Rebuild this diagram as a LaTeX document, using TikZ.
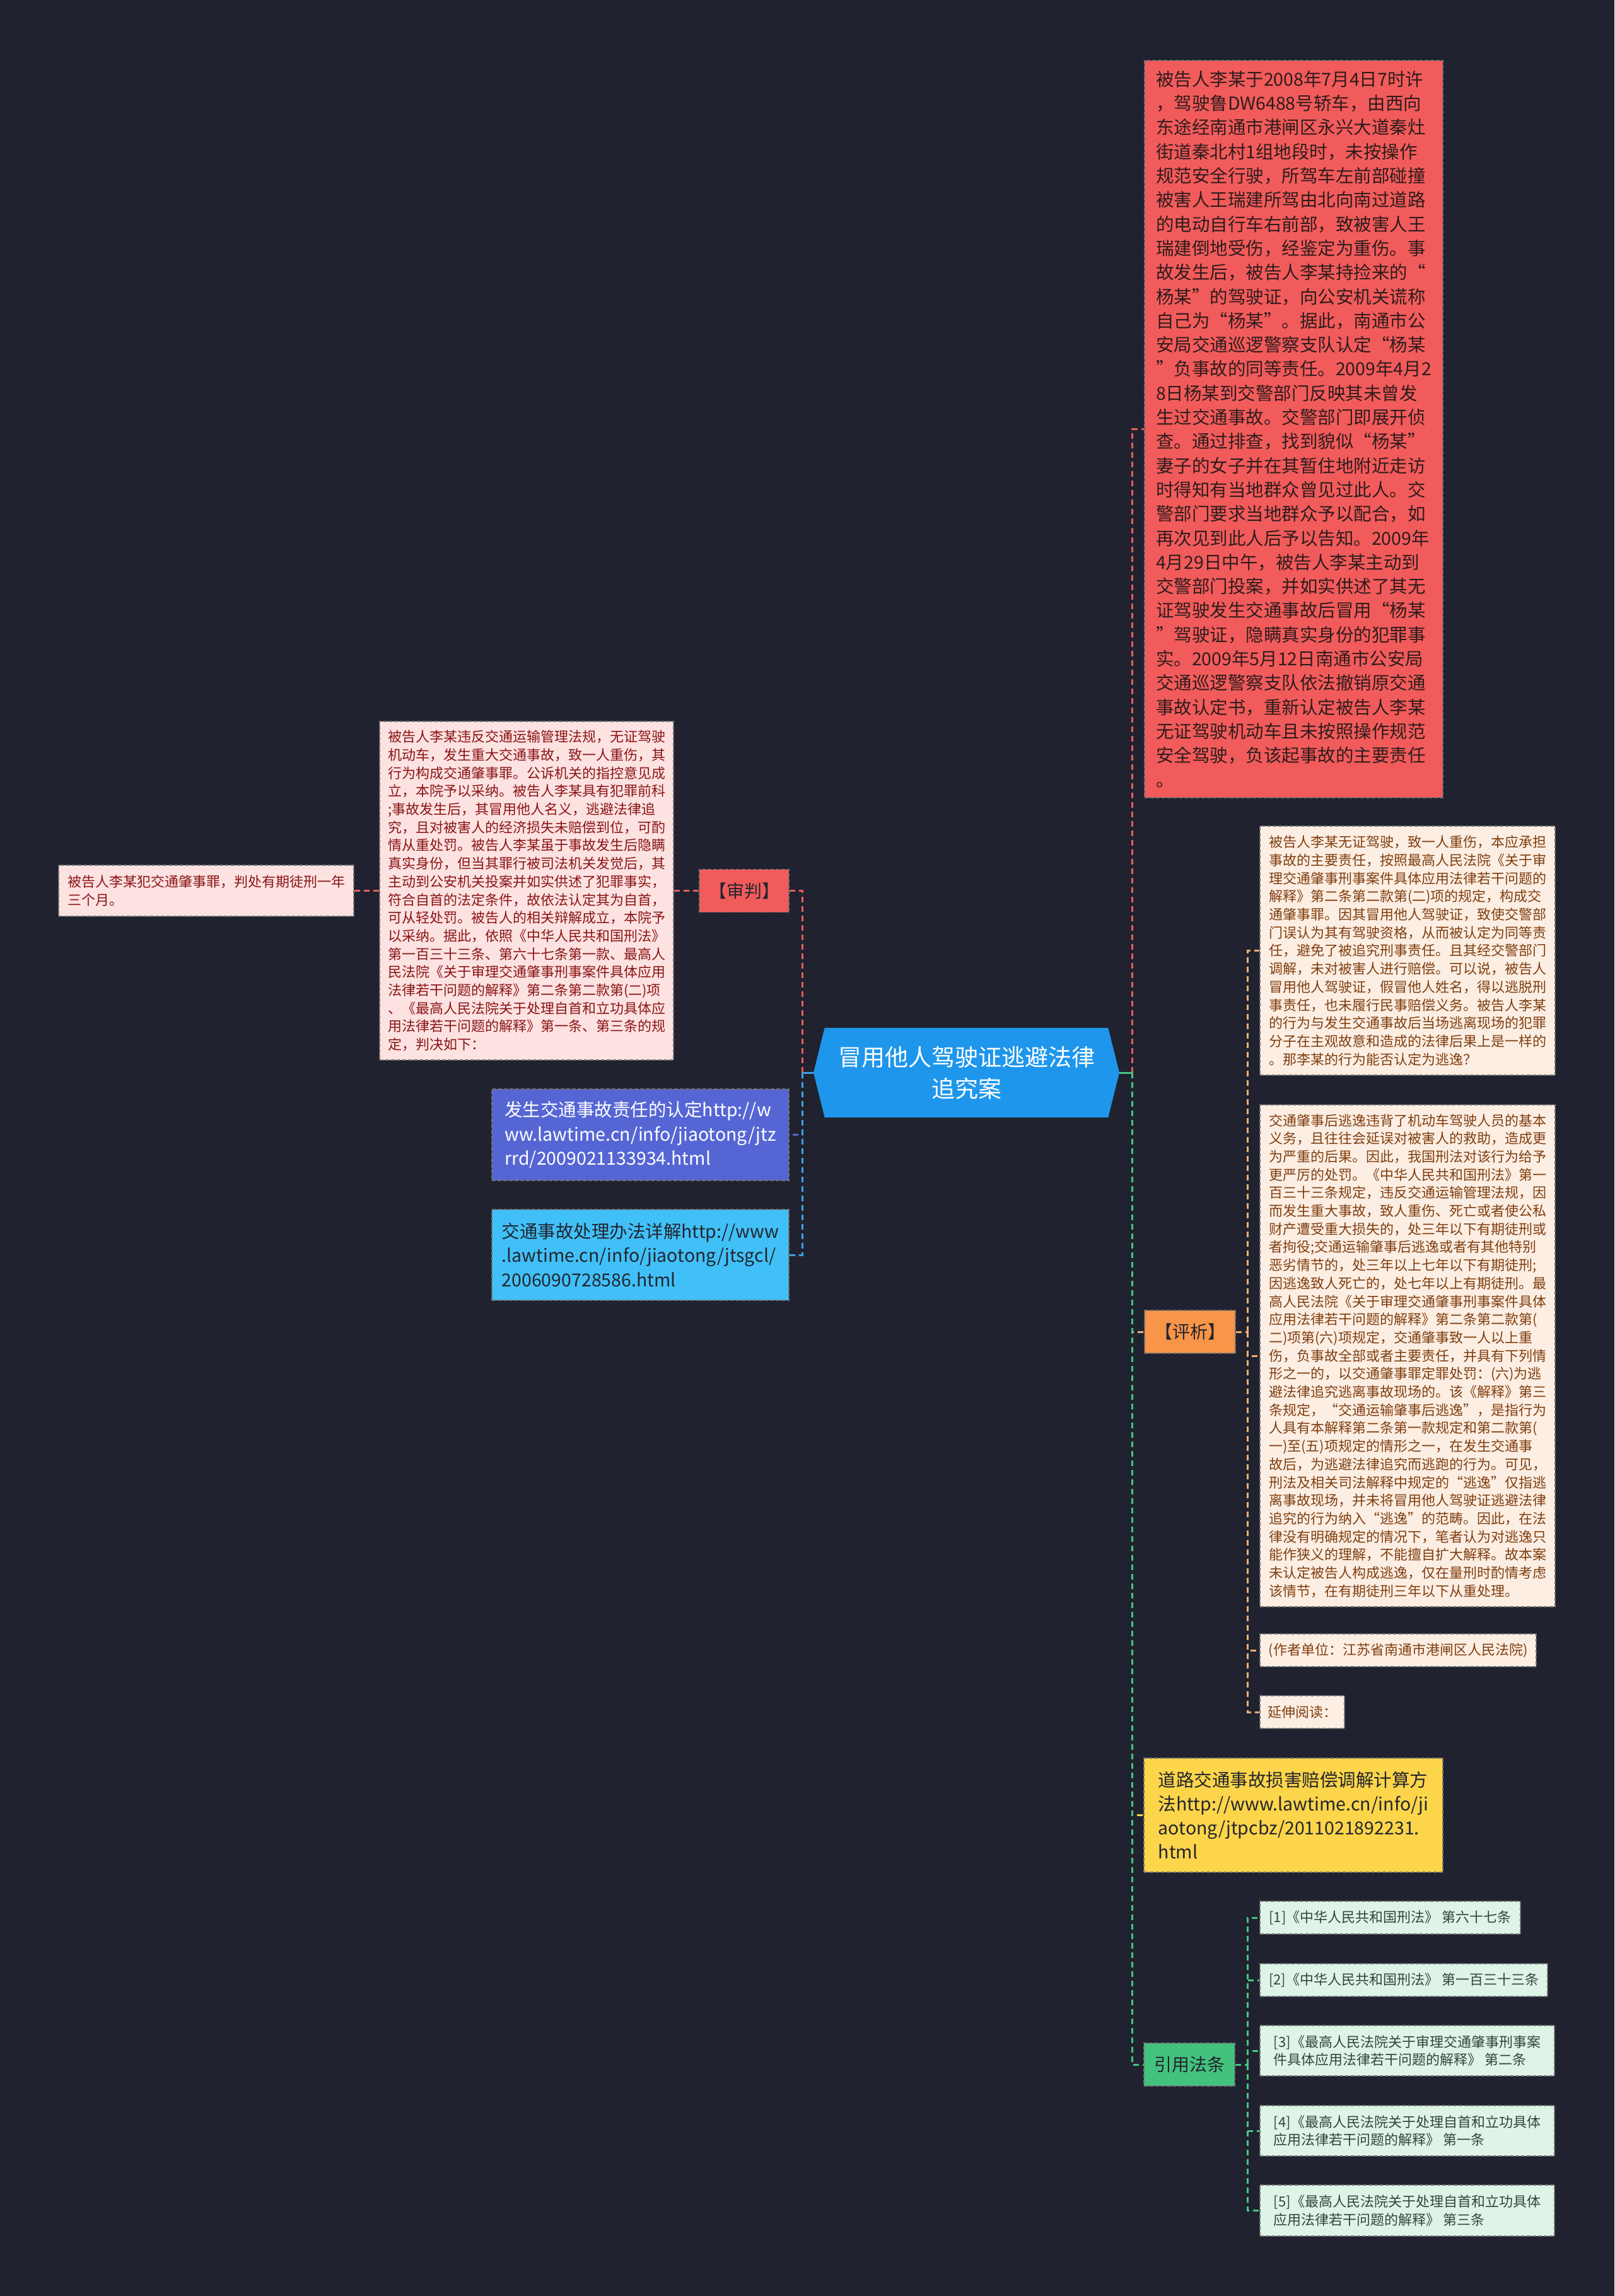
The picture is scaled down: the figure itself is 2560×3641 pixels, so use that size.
\documentclass[tikz,border=0pt]{standalone}
\usepackage{fontspec}
\setmainfont{Noto Sans CJK SC}
\usepackage{xcolor}
\usepackage{tikz}
\usetikzlibrary{shapes.symbols}

\definecolor{bgc}{HTML}{20232F}
\definecolor{caseblue}{HTML}{1E96EC}
\definecolor{redfill}{HTML}{F25B5B}
\definecolor{redtext}{HTML}{2E1C1C}
\definecolor{pinkfill}{HTML}{FDE2E2}
\definecolor{pinktext}{HTML}{8B1515}
\definecolor{orangefill}{HTML}{F89548}
\definecolor{peachfill}{HTML}{FDEEE3}
\definecolor{peachtext}{HTML}{7F3F10}
\definecolor{yellowfill}{HTML}{FDD54A}
\definecolor{greenfill}{HTML}{43C27E}
\definecolor{mintfill}{HTML}{DDF4E7}
\definecolor{minttext}{HTML}{34463C}
\definecolor{indigofill}{HTML}{5566D4}
\definecolor{skyfill}{HTML}{41C0F8}
\definecolor{darktext}{HTML}{22252E}
\definecolor{redline}{HTML}{E85D5D}
\definecolor{blueline}{HTML}{3BA3E8}
\definecolor{orangeline}{HTML}{F5AE78}
\definecolor{greenline}{HTML}{45C783}

\begin{document}
\begin{tikzpicture}[x=1pt, y=-1pt,
    box/.style={rectangle, draw=black!55, dash pattern=on 6pt off 3pt, line width=1.5pt, align=left, inner sep=0pt},
    big/.style={font=\fontsize{28.5}{38.3}\selectfont},
    small/.style={font=\fontsize{22}{28.7}\selectfont},
    tag/.style={box, align=center, font=\fontsize{28}{34}\selectfont, text=darktext, minimum width=144pt, minimum height=68pt},
    conn/.style={line width=3pt, dash pattern=on 9pt off 6pt},
  ]
    \fill[bgc] (0,0) rectangle (2560,3641);
    \useasboundingbox (0,0) rectangle (2560,3641);

    \node[signal, signal to=west and east, signal pointer angle=152, fill=caseblue, text=white, align=center,
      font=\fontsize{37}{50}\selectfont, minimum width=485pt, minimum height=142pt, inner sep=0pt] (case) at (1532.5,1701)
      {冒用他人驾驶证逃避法律\\追究案};

    \node[box, fill=redfill, text=redtext, big, minimum width=473pt, minimum height=1169pt] (fact) at (2051.5,680.5)
      {被告人李某于2008年7月4日7时许\\，驾驶鲁DW6488号轿车，由西向\\东途经南通市港闸区永兴大道秦灶\\街道秦北村1组地段时，未按操作\\规范安全行驶，所驾车左前部碰撞\\被害人王瑞建所驾由北向南过道路\\的电动自行车右前部，致被害人王\\瑞建倒地受伤，经鉴定为重伤。事\\故发生后，被告人李某持捡来的“\\杨某”的驾驶证，向公安机关谎称\\自己为“杨某”。据此，南通市公\\安局交通巡逻警察支队认定“杨某\\”负事故的同等责任。2009年4月2\\8日杨某到交警部门反映其未曾发\\生过交通事故。交警部门即展开侦\\查。通过排查，找到貌似“杨某”\\妻子的女子并在其暂住地附近走访\\时得知有当地群众曾见过此人。交\\警部门要求当地群众予以配合，如\\再次见到此人后予以告知。2009年\\4月29日中午，被告人李某主动到\\交警部门投案，并如实供述了其无\\证驾驶发生交通事故后冒用“杨某\\”驾驶证，隐瞒真实身份的犯罪事\\实。2009年5月12日南通市公安局\\交通巡逻警察支队依法撤销原交通\\事故认定书，重新认定被告人李某\\无证驾驶机动车且未按照操作规范\\安全驾驶，负该起事故的主要责任\\。};

    \node[tag, fill=redfill, minimum width=142pt] (trial) at (1180,1412.5) {【审判】};
    \node[box, fill=pinkfill, text=pinktext, small, minimum width=466pt, minimum height=537pt] (judge) at (835,1412.5)
      {被告人李某违反交通运输管理法规，无证驾驶\\机动车，发生重大交通事故，致一人重伤，其\\行为构成交通肇事罪。公诉机关的指控意见成\\立，本院予以采纳。被告人李某具有犯罪前科\\;事故发生后，其冒用他人名义，逃避法律追\\究，且对被害人的经济损失未赔偿到位，可酌\\情从重处罚。被告人李某虽于事故发生后隐瞒\\真实身份，但当其罪行被司法机关发觉后，其\\主动到公安机关投案并如实供述了犯罪事实，\\符合自首的法定条件，故依法认定其为自首，\\可从轻处罚。被告人的相关辩解成立，本院予\\以采纳。据此，依照《中华人民共和国刑法》\\第一百三十三条、第六十七条第一款、最高人\\民法院《关于审理交通肇事刑事案件具体应用\\法律若干问题的解释》第二条第二款第(二)项\\、《最高人民法院关于处理自首和立功具体应\\用法律若干问题的解释》第一条、第三条的规\\定，判决如下：};
    \node[box, fill=pinkfill, text=pinktext, small, minimum width=468pt, minimum height=81pt] (verdict) at (327,1412.5)
      {被告人李某犯交通肇事罪，判处有期徒刑一年\\三个月。};

    \node[box, fill=indigofill, text=white, big, minimum width=471pt, minimum height=145pt] (link1) at (1015.5,1799.5)
      {发生交通事故责任的认定http://w\\ww.lawtime.cn/info/jiaotong/jtz\\rrd/2009021133934.html};
    \node[box, fill=skyfill, text=darktext, big, minimum width=471pt, minimum height=144pt] (link2) at (1015.5,1990)
      {交通事故处理办法详解http://www\\.lawtime.cn/info/jiaotong/jtsgcl/\\2006090728586.html};

    \node[tag, fill=orangefill] (review) at (1887,2112) {【评析】};
    \node[box, fill=peachfill, text=peachtext, small, minimum width=468pt, minimum height=395pt] (note1) at (2232,1507.5)
      {被告人李某无证驾驶，致一人重伤，本应承担\\事故的主要责任，按照最高人民法院《关于审\\理交通肇事刑事案件具体应用法律若干问题的\\解释》第二条第二款第(二)项的规定，构成交\\通肇事罪。因其冒用他人驾驶证，致使交警部\\门误认为其有驾驶资格，从而被认定为同等责\\任，避免了被追究刑事责任。且其经交警部门\\调解，未对被害人进行赔偿。可以说，被告人\\冒用他人驾驶证，假冒他人姓名，得以逃脱刑\\事责任，也未履行民事赔偿义务。被告人李某\\的行为与发生交通事故后当场逃离现场的犯罪\\分子在主观故意和造成的法律后果上是一样的\\。那李某的行为能否认定为逃逸？};
    \node[box, fill=peachfill, text=peachtext, small, minimum width=468pt, minimum height=796pt] (note2) at (2232,2150)
      {交通肇事后逃逸违背了机动车驾驶人员的基本\\义务，且往往会延误对被害人的救助，造成更\\为严重的后果。因此，我国刑法对该行为给予\\更严厉的处罚。《中华人民共和国刑法》第一\\百三十三条规定，违反交通运输管理法规，因\\而发生重大事故，致人重伤、死亡或者使公私\\财产遭受重大损失的，处三年以下有期徒刑或\\者拘役;交通运输肇事后逃逸或者有其他特别\\恶劣情节的，处三年以上七年以下有期徒刑;\\因逃逸致人死亡的，处七年以上有期徒刑。最\\高人民法院《关于审理交通肇事刑事案件具体\\应用法律若干问题的解释》第二条第二款第(\\二)项第(六)项规定，交通肇事致一人以上重\\伤，负事故全部或者主要责任，并具有下列情\\形之一的，以交通肇事罪定罪处罚：(六)为逃\\避法律追究逃离事故现场的。该《解释》第三\\条规定，“交通运输肇事后逃逸”，是指行为\\人具有本解释第二条第一款规定和第二款第(\\一)至(五)项规定的情形之一，在发生交通事\\故后，为逃避法律追究而逃跑的行为。可见，\\刑法及相关司法解释中规定的“逃逸”仅指逃\\离事故现场，并未将冒用他人驾驶证逃避法律\\追究的行为纳入“逃逸”的范畴。因此，在法\\律没有明确规定的情况下，笔者认为对逃逸只\\能作狭义的理解，不能擅自扩大解释。故本案\\未认定被告人构成逃逸，仅在量刑时酌情考虑\\该情节，在有期徒刑三年以下从重处理。};
    \node[box, fill=peachfill, text=peachtext, small, minimum width=438pt, minimum height=52pt] (author) at (2217,2617)
      {(作者单位：江苏省南通市港闸区人民法院)};
    \node[box, fill=peachfill, text=peachtext, small, minimum width=134pt, minimum height=52pt] (further) at (2065,2715)
      {延伸阅读：};

    \node[box, fill=yellowfill, text=darktext, big, minimum width=474pt, minimum height=181pt] (calc) at (2051,2878.5)
      {道路交通事故损害赔偿调解计算方\\法http://www.lawtime.cn/info/ji\\aotong/jtpcbz/2011021892231.\\html};

    \node[tag, fill=greenfill] (cite) at (1886,3274) {引用法条};
    \node[box, fill=mintfill, text=minttext, small, minimum width=413pt, minimum height=52pt] (law1) at (2204.5,3041)
      {[1]《中华人民共和国刑法》 第六十七条};
    \node[box, fill=mintfill, text=minttext, small, minimum width=456pt, minimum height=52pt] (law2) at (2226,3140)
      {[2]《中华人民共和国刑法》 第一百三十三条};
    \node[box, fill=mintfill, text=minttext, small, minimum width=467pt, minimum height=80pt] (law3) at (2231.5,3252)
      {[3]《最高人民法院关于审理交通肇事刑事案\\件具体应用法律若干问题的解释》 第二条};
    \node[box, fill=mintfill, text=minttext, small, minimum width=467pt, minimum height=80pt] (law4) at (2231.5,3379)
      {[4]《最高人民法院关于处理自首和立功具体\\应用法律若干问题的解释》 第一条};
    \node[box, fill=mintfill, text=minttext, small, minimum width=467pt, minimum height=81pt] (law5) at (2231.5,3505.5)
      {[5]《最高人民法院关于处理自首和立功具体\\应用法律若干问题的解释》 第三条};

    \coordinate (jl) at (1272,1701);
    \coordinate (jr) at (1795,1701);
    \coordinate (jp) at (1978,2112);
    \coordinate (jc) at (1978,3274);

    \draw[blueline, line width=3pt] (case.west) -- (jl);
    \draw[greenline, line width=3pt] (case.east) -- (jr);
    \draw[conn, redline] (jl) |- (trial.east);
    \draw[conn, indigofill] (jl) |- (link1.east);
    \draw[conn, blueline] (jl) |- (link2.east);
    \draw[conn, redline] (trial.west) -- (judge.east);
    \draw[conn, redline] (judge.west) -- (verdict.east);

    \draw[conn, redline] (jr) |- (fact.west);
    \draw[conn, orangeline] (jr) |- (review.west);
    \draw[conn, yellowfill] (jr) |- (calc.west);
    \draw[conn, greenline] (jr) |- (cite.west);

    \draw[conn, orangeline] (review.east) -- (jp);
    \foreach \n in {note1, note2, author, further}
      \draw[conn, orangeline] (jp) |- (\n.west);
    \draw[conn, greenline] (cite.east) -- (jc);
    \foreach \n in {law1, law2, law3, law4, law5}
      \draw[conn, greenline] (jc) |- (\n.west);
\end{tikzpicture}
\end{document}
